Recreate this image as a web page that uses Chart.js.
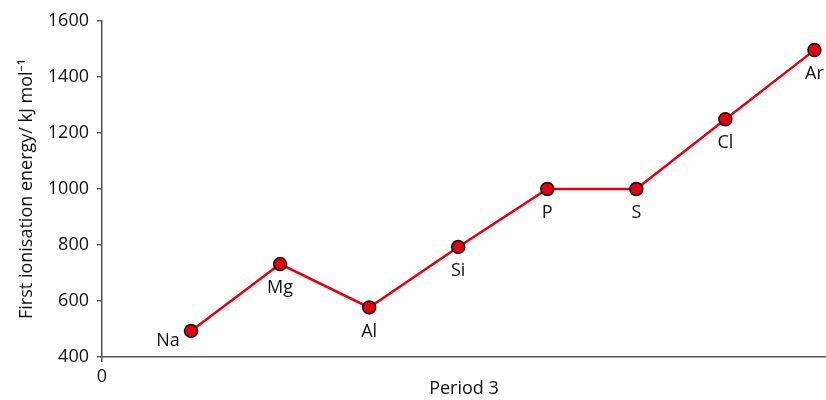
<!DOCTYPE html>
<html>
<head>
<meta charset="utf-8">
<script src="https://cdn.jsdelivr.net/npm/chart.js@4/dist/chart.umd.min.js"></script>
<style>
  body { margin: 0; background: #fff; }
</style>
</head>
<body>
<canvas id="ieChart" width="826" height="400"></canvas>
<script>
const elements = ["Na", "Mg", "Al", "Si", "P", "S", "Cl", "Ar"];
const positions = [1, 2, 3, 4, 5, 6, 7, 8];
const energies = [493, 732, 577, 793, 1000, 1000, 1249, 1496];
const yTicks = [400, 600, 800, 1000, 1200, 1400, 1600];

const font = "'Open Sans', 'Noto Sans', sans-serif";
const axisColor = "#555";

// element names drawn under each point
const pointLabels = {
  id: "pointLabels",
  afterDatasetsDraw(chart) {
    const ctx = chart.ctx;
    const meta = chart.getDatasetMeta(0);
    ctx.save();
    ctx.font = "18px " + font;
    ctx.fillStyle = "#111";
    ctx.textAlign = "center";
    ctx.textBaseline = "middle";
    meta.data.forEach((pt, i) => {
      let dx = 0, dy = 24;
      if (elements[i] === "Na") { dx = -23; dy = 10; }
      ctx.fillText(elements[i], pt.x + dx, pt.y + dy);
    });
    ctx.restore();
  }
};

new Chart(document.getElementById("ieChart"), {
  type: "line",
  data: {
    datasets: [{
      data: positions.map((x, i) => ({ x: x, y: energies[i] })),
      borderColor: "#e3000f",
      borderWidth: 2.5,
      backgroundColor: "#e3000f",
      pointRadius: 6.5,
      pointBorderColor: "#111",
      pointBorderWidth: 1.5,
      tension: 0
    }]
  },
  options: {
    responsive: false,
    animation: false,
    layout: { autoPadding: false, padding: { top: 21, right: 0, left: 0, bottom: 0 } },
    plugins: { legend: { display: false }, tooltip: { enabled: false } },
    scales: {
      x: {
        type: "linear",
        min: 0,
        max: 8.13,
        afterBuildTicks: (axis) => { axis.ticks = [{ value: 0 }]; },
        afterFit: (axis) => { axis.height = 43; },
        grid: { drawOnChartArea: false, drawTicks: true, tickLength: 5, color: axisColor, lineWidth: 1.5 },
        border: { display: true, color: axisColor, width: 1.5 },
        ticks: { color: "#111", font: { family: font, size: 18 }, padding: 4, callback: (v) => String(v) },
        title: { display: true, text: "Period 3", color: "#111", font: { family: font, size: 18 }, padding: { top: 0, bottom: 0 } }
      },
      y: {
        min: 400,
        max: 1600,
        afterBuildTicks: (axis) => { axis.ticks = yTicks.map(v => ({ value: v })); },
        afterFit: (axis) => { axis.width = 102; },
        grid: { drawOnChartArea: false, drawTicks: true, tickLength: 5, color: axisColor, lineWidth: 1.5 },
        border: { display: true, color: axisColor, width: 1.5 },
        ticks: { color: "#111", font: { family: font, size: 18 }, padding: 8, autoSkip: false, callback: (v) => String(v) },
        title: { display: true, text: "First ionisation energy/ kJ mol\u207B\u00B9", color: "#111", font: { family: font, size: 18 }, padding: { top: 16, bottom: 0 } }
      }
    }
  },
  plugins: [pointLabels]
});
</script>
</body>
</html>
